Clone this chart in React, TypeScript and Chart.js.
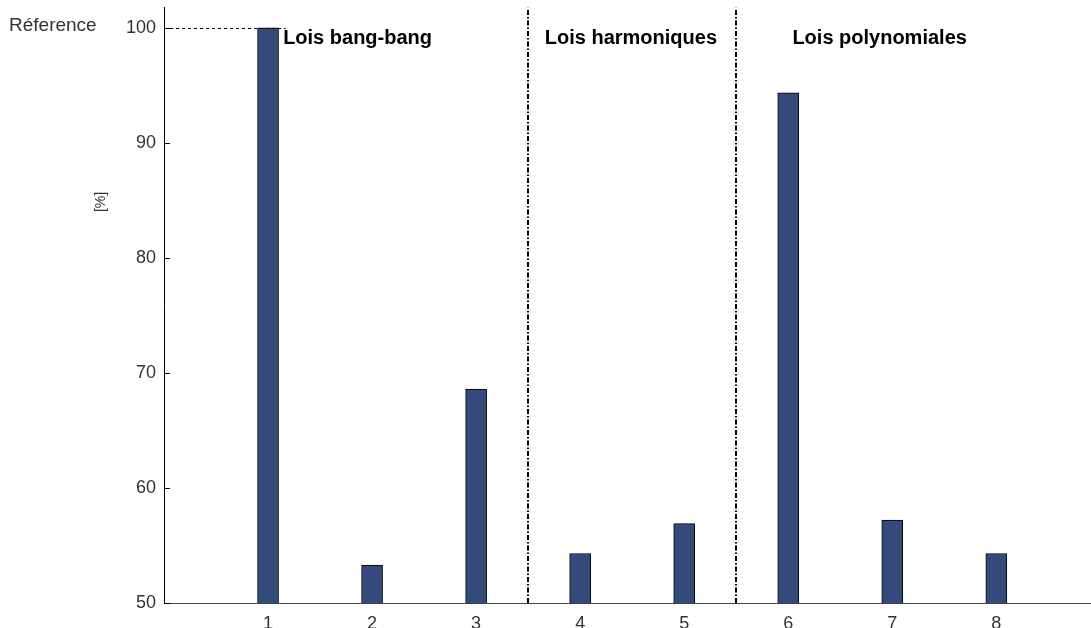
import React, { useEffect, useRef } from "react";
import { Chart, registerables } from "chart.js";

Chart.register(...registerables);

const categories = [1, 2, 3, 4, 5, 6, 7, 8];
const values = [100, 53.3, 68.6, 54.3, 56.9, 94.35, 57.2, 54.3];
const yTicks = [50, 60, 70, 80, 90, 100];
const separators = [3.5, 5.5];
const groupLabels = ["Lois bang-bang", "Lois harmoniques", "Lois polynomiales"];
const groupLabelX = [1.145, 3.66, 6.04];
const referenceValue = 100;
const referenceLabel = "Réference";
const yAxisLabel = "[%]";

const FONT = "'Liberation Sans', Arial, sans-serif";
const SHIFT = 3;

const overlay = {
  id: "overlay",
  afterDatasetsDraw(chart: any) {
    const { ctx, chartArea, scales } = chart;
    const x = scales.x;
    const y = scales.y;
    ctx.save();
    // inward y tick marks
    ctx.strokeStyle = "#000";
    ctx.lineWidth = 1;
    for (const v of yTicks) {
      const py = Math.round(y.getPixelForValue(v)) + 0.5;
      ctx.beginPath();
      ctx.moveTo(chartArea.left, py);
      ctx.lineTo(chartArea.left + 6, py);
      ctx.stroke();
    }
    // reference dashed line
    const yr = Math.round(y.getPixelForValue(referenceValue));
    ctx.setLineDash([3, 3]);
    ctx.beginPath();
    ctx.moveTo(chartArea.left, yr + 0.5);
    ctx.lineTo(x.getPixelForValue(1.17), yr + 0.5);
    ctx.stroke();
    // separators dash-dot
    ctx.lineWidth = 2;
    ctx.setLineDash([5, 2, 1.5, 2]);
    for (const s of separators) {
      const px = Math.round(x.getPixelForValue(s));
      ctx.beginPath();
      ctx.moveTo(px, chartArea.bottom);
      ctx.lineTo(px, chartArea.top);
      ctx.stroke();
    }
    ctx.setLineDash([]);
    // group labels
    ctx.fillStyle = "#000";
    ctx.font = `bold 20px ${FONT}`;
    ctx.textAlign = "left";
    ctx.textBaseline = "alphabetic";
    groupLabels.forEach((t, i) => {
      ctx.fillText(t, x.getPixelForValue(groupLabelX[i]), 44 + SHIFT);
    });
    // reference label
    ctx.font = `19px ${FONT}`;
    ctx.fillStyle = "#333";
    ctx.fillText(referenceLabel, 9, yr + 2.5);
    // y axis label
    ctx.translate(101, 202 + SHIFT);
    ctx.rotate(-Math.PI / 2);
    ctx.font = `14px ${FONT}`;
    ctx.textAlign = "center";
    ctx.textBaseline = "middle";
    ctx.fillText(yAxisLabel, 0, 0);
    ctx.restore();
  },
};

export default function App() {
  const ref = useRef<HTMLCanvasElement>(null);
  useEffect(() => {
    document.body.style.margin = "0";
    const chart = new Chart(ref.current!, {
      type: "bar",
      data: {
        datasets: [
          {
            data: categories.map((c, i) => ({ x: c, y: values[i] })),
            backgroundColor: "#334a7a",
            borderColor: "#000",
            borderWidth: 1,
            barThickness: 21,
          },
        ],
      },
      options: {
        animation: false,
        responsive: false,
        maintainAspectRatio: false,
        layout: { autoPadding: false, padding: 0 },
        plugins: { legend: { display: false }, tooltip: { enabled: false } },
        scales: {
          x: {
            type: "linear",
            min: 0,
            max: 8.91,
            offset: false,
            grid: { display: false },
            border: { display: true, color: "#444", width: 1 },
            afterBuildTicks: (s: any) => {
              s.ticks = categories.map((v) => ({ value: v }));
            },
            afterFit: (s: any) => {
              s.height = 25;
            },
            ticks: {
              font: { family: FONT, size: 18 },
              color: "#333",
              padding: 2,
              maxRotation: 0,
              autoSkip: false,
            },
          },
          y: {
            min: 50,
            max: 101.74,
            grid: { display: false },
            border: { display: true, color: "#000", width: 1 },
            afterBuildTicks: (s: any) => {
              s.ticks = yTicks.map((v) => ({ value: v }));
            },
            afterFit: (s: any) => {
              s.width = 164;
            },
            ticks: {
              font: { family: FONT, size: 18 },
              color: "#333",
              padding: 0,
            },
          },
        },
      },
      plugins: [overlay],
    } as any);
    return () => chart.destroy();
  }, []);
  return (
    <div style={{ position: "absolute", left: 0, top: -SHIFT, width: 1091, height: 628 + SHIFT }}>
      <canvas ref={ref} width={1091} height={628 + SHIFT} />
    </div>
  );
}
